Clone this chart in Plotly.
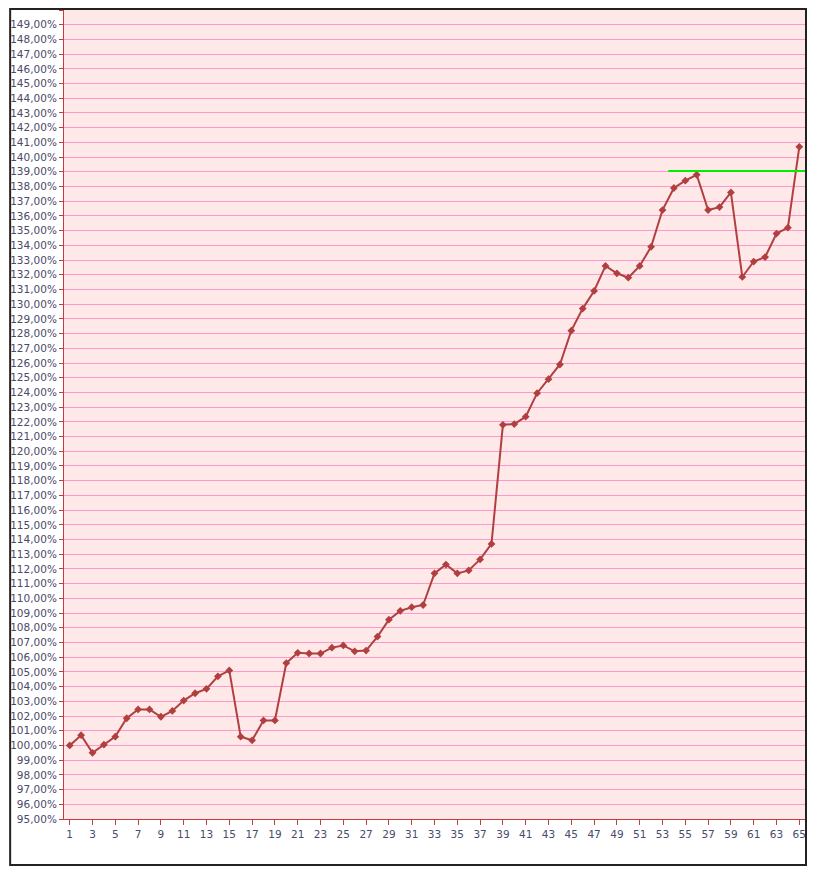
import plotly.graph_objects as go

periods = list(range(1, 66))
values = [100.0, 100.7, 99.5, 100.05, 100.6, 101.85, 102.45, 102.45, 101.95, 102.35,
          103.05, 103.55, 103.85, 104.7, 105.1, 100.6, 100.35, 101.7, 101.7, 105.6,
          106.3, 106.25, 106.25, 106.65, 106.8, 106.4, 106.45, 107.4, 108.55, 109.15,
          109.4, 109.55, 111.7, 112.3, 111.7, 111.9, 112.65, 113.7, 121.8, 121.85,
          122.35, 123.95, 124.9, 125.9, 128.2, 129.7, 130.9, 132.6, 132.1, 131.8,
          132.6, 133.9, 136.4, 137.9, 138.4, 138.8, 136.4, 136.6, 137.6, 131.85,
          132.9, 133.2, 134.8, 135.2, 140.7]
level_x = [53.5, 65.5]
level_y = [139.05, 139.05]
tick_vals = list(range(1, 66, 2))
y_ticks = list(range(95, 151))
y_labels = [f"{v},00%" for v in y_ticks]

fig = go.Figure()
fig.add_trace(go.Scatter(x=periods, y=values, mode="lines+markers",
                         line=dict(color="#b04040", width=2),
                         marker=dict(symbol="diamond", size=6, color="#b04040")))
fig.add_trace(go.Scatter(x=level_x, y=level_y, mode="lines",
                         line=dict(color="#00ee00", width=2)))

W, H = 800, 858
ml, mr, mt, mb = 55, 2, 2, 47
pw, ph = W - ml - mr, H - mt - mb
fig.update_layout(
    width=W, height=H, showlegend=False,
    margin=dict(l=ml, r=mr, t=mt, b=mb),
    paper_bgcolor="white", plot_bgcolor="#fee8e8",
    font=dict(family="DejaVu Sans", size=10.5, color="#4a4a6a"),
    xaxis=dict(range=[0.5, 65.5], tickvals=tick_vals, showgrid=False,
               ticks="outside", ticklen=5, tickcolor="#c04040",
               showline=True, linecolor="#c04040", zeroline=False),
    yaxis=dict(range=[95, 150], tickvals=y_ticks, ticktext=y_labels,
               gridcolor="#ff99cc", gridwidth=1, ticks="outside", ticklen=4,
               tickcolor="#c04040", showline=True, linecolor="#c04040",
               zeroline=False),
    shapes=[dict(type="rect", xref="paper", yref="paper",
                 x0=-(ml - 1) / pw, x1=1 + (mr - 1) / pw,
                 y0=-(mb - 1) / ph, y1=1 + (mt - 1) / ph,
                 line=dict(color="#222222", width=2))],
)
fig.write_html("out.html")
